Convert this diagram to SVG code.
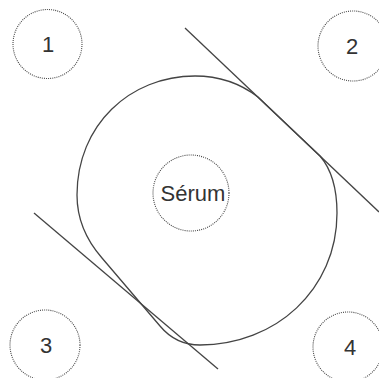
<svg xmlns="http://www.w3.org/2000/svg" width="379" height="378" viewBox="0 0 379 378">
<style>
.dot{fill:none;stroke:#444;stroke-width:1.1;stroke-dasharray:1 1.1}
.lbl{font-family:"Liberation Sans",Arial,sans-serif;fill:#333;text-anchor:middle}
.ln{fill:none;stroke:#444;stroke-width:1.3}
</style>
<rect width="379" height="378" fill="#fff"/>
<g id="connectors">
<path id="blob" class="ln" d="M77,195 C77,125 130,76 195,76 C225,76 245,87 258,97 L320,156 C332,170 337,190 337,213 C337,290 275,345 200,345 C182,345 170,338 160,326 L102,258 C88,242 77,222 77,195 Z"/>
<line class="ln" x1="185" y1="28" x2="379" y2="212"/>
<line class="ln" x1="34" y1="213" x2="218" y2="369"/>
</g>
<g id="n1"><circle class="dot" cx="47.5" cy="44" r="34.5"/><text class="lbl" x="48" y="52" font-size="22">1</text></g>
<g id="n2"><circle class="dot" cx="353" cy="46" r="35"/><text class="lbl" x="352" y="54" font-size="22">2</text></g>
<g id="n3"><circle class="dot" cx="45" cy="345" r="35"/><text class="lbl" x="46" y="353" font-size="22">3</text></g>
<g id="n4"><circle class="dot" cx="348" cy="347" r="35"/><text class="lbl" x="350" y="355" font-size="22">4</text></g>
<g id="serum"><circle class="dot" cx="191" cy="193" r="38"/><text class="lbl" x="193" y="201" font-size="22">Sérum</text></g>
</svg>
